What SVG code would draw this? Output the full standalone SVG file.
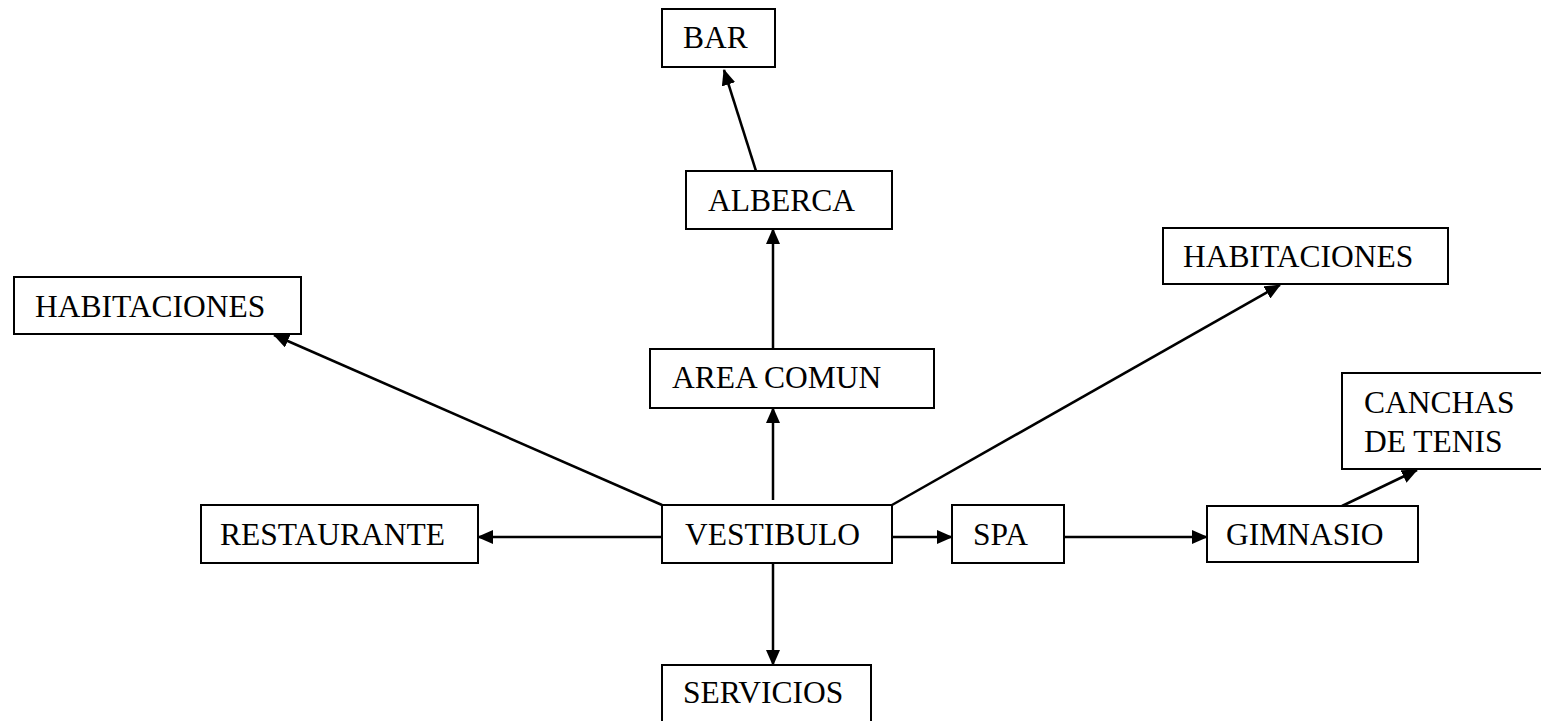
<svg xmlns="http://www.w3.org/2000/svg" width="1541" height="721" viewBox="0 0 1541 721">
<style>
.box{fill:#fff;stroke:#000;stroke-width:2}
.lbl{font-family:"Liberation Serif","Times New Roman",serif;font-size:31.5px;fill:#000}
.edge{stroke:#000;stroke-width:2.5;fill:none}
</style>
<defs>
<marker id="ah" markerUnits="userSpaceOnUse" markerWidth="16" markerHeight="14" refX="15" refY="7" orient="auto">
<path d="M0,0 L16,7 L0,14 Z" fill="#000"/>
</marker>
</defs>
<rect width="1541" height="721" fill="#fff"/>
<g id="connectors">
<line class="edge" x1="756" y1="171" x2="724" y2="70" marker-end="url(#ah)"/>
<line class="edge" x1="773" y1="349" x2="773" y2="229" marker-end="url(#ah)"/>
<line class="edge" x1="773" y1="500" x2="773" y2="408" marker-end="url(#ah)"/>
<line class="edge" x1="773" y1="563" x2="773" y2="665" marker-end="url(#ah)"/>
<line class="edge" x1="662" y1="537" x2="478" y2="537" marker-end="url(#ah)"/>
<line class="edge" x1="892" y1="537" x2="952" y2="537" marker-end="url(#ah)"/>
<line class="edge" x1="1064" y1="537" x2="1207" y2="537" marker-end="url(#ah)"/>
<line class="edge" x1="662" y1="505" x2="274" y2="335" marker-end="url(#ah)"/>
<line class="edge" x1="892" y1="505" x2="1280" y2="285" marker-end="url(#ah)"/>
<line class="edge" x1="1342" y1="506" x2="1417" y2="470" marker-end="url(#ah)"/>
</g>
<g id="bar"><rect class="box" x="662" y="9" width="113" height="58"/><text class="lbl" x="683" y="48">BAR</text></g>
<g id="alberca"><rect class="box" x="686" y="171" width="206" height="58"/><text class="lbl" x="708" y="211">ALBERCA</text></g>
<g id="area-comun"><rect class="box" x="650" y="349" width="284" height="59"/><text class="lbl" x="672" y="388">AREA COMUN</text></g>
<g id="habitaciones-left"><rect class="box" x="14" y="277" width="287" height="57"/><text class="lbl" x="35" y="317">HABITACIONES</text></g>
<g id="habitaciones-right"><rect class="box" x="1163" y="228" width="285" height="56"/><text class="lbl" x="1183" y="267">HABITACIONES</text></g>
<g id="canchas"><rect class="box" x="1342" y="373" width="210" height="96"/><text class="lbl" x="1364" y="413">CANCHAS</text><text class="lbl" x="1364" y="452">DE TENIS</text></g>
<g id="restaurante"><rect class="box" x="201" y="505" width="277" height="58"/><text class="lbl" x="220" y="545">RESTAURANTE</text></g>
<g id="vestibulo"><rect class="box" x="662" y="505" width="230" height="58"/><text class="lbl" x="685" y="545">VESTIBULO</text></g>
<g id="spa"><rect class="box" x="952" y="505" width="112" height="58"/><text class="lbl" x="973" y="545">SPA</text></g>
<g id="gimnasio"><rect class="box" x="1207" y="506" width="211" height="56"/><text class="lbl" x="1226" y="545">GIMNASIO</text></g>
<g id="servicios"><rect class="box" x="662" y="665" width="209" height="70"/><text class="lbl" x="683" y="703">SERVICIOS</text></g>
</svg>
